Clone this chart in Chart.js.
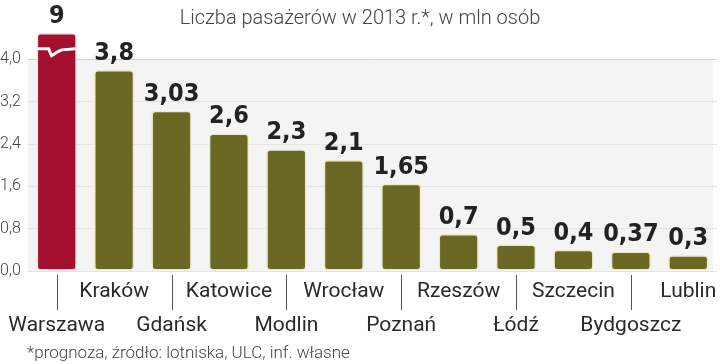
<!DOCTYPE html>
<html>
<head>
<meta charset="utf-8">
<script src="https://cdn.jsdelivr.net/npm/chart.js@4"></script>
<style>
  html, body { margin: 0; padding: 0; background: #fff; }
  #wrap { width: 720px; height: 364px; position: relative; }
</style>
</head>
<body>
<div id="wrap"><canvas id="airChart" width="720" height="364"></canvas></div>
<script>
// ===== dane =====
const airports = ['Warszawa', 'Kraków', 'Gdańsk', 'Katowice', 'Modlin', 'Wrocław', 'Poznań', 'Rzeszów', 'Łódź', 'Szczecin', 'Bydgoszcz', 'Lublin'];
const passengers = [9, 3.8, 3.03, 2.6, 2.3, 2.1, 1.65, 0.7, 0.5, 0.4, 0.37, 0.3];
const yTicks = [0, 0.8, 1.6, 2.4, 3.2, 4.0];
const title = 'Liczba pasażerów w 2013 r.*, w mln osób';
const footnote = '*prognoza, źródło: lotniska, ULC, inf. własne';

const yCap = 4.5; // Warszawa jest ucięta
const fmt = v => String(v).replace('.', ',');

// tło pola wykresu + tytuł + przypis
const backdrop = {
    id: 'backdrop',
    beforeDraw(chart) {
        const { ctx, chartArea, scales: { y } } = chart;
        ctx.save();
        ctx.fillStyle = '#f4f4f4';
        const top = y.getPixelForValue(4.0);
        ctx.fillRect(chartArea.left, top, chartArea.right - chartArea.left - 4, y.getPixelForValue(0) - top + 1);
        ctx.fillStyle = '#444';
        ctx.font = '300 20px Roboto';
        ctx.textAlign = 'center';
        ctx.textBaseline = 'alphabetic';
        ctx.fillText(title, 360, 24);
        ctx.textAlign = 'left';
        ctx.font = '300 17px Roboto';
        ctx.fillText(footnote, 27, 358);
        ctx.restore();
    }
};

// etykiety wartości, kategorie i znak przerwania
const labelsPlugin = {
    id: 'labelsPlugin',
    afterDatasetsDraw(chart) {
        const { ctx, scales: { y } } = chart;
        const bars = chart.getDatasetMeta(0).data;
        ctx.save();
        bars.forEach((bar, i) => {
            ctx.fillStyle = '#222';
            ctx.font = 'bold 25px "DejaVu Sans Condensed", "DejaVu Sans"';
            ctx.textAlign = 'center';
            ctx.textBaseline = 'alphabetic';
            ctx.fillText(fmt(passengers[i]), bar.x, bar.y - 10);

            const lower = i % 2 === 0;
            if (lower) {
                ctx.strokeStyle = '#555';
                ctx.lineWidth = 1;
                ctx.beginPath();
                ctx.moveTo(Math.round(bar.x) + 0.5, 275);
                ctx.lineTo(Math.round(bar.x) + 0.5, 310);
                ctx.stroke();
            }
            ctx.fillStyle = '#2a2a2a';
            ctx.font = '21px Roboto';
            ctx.textBaseline = 'middle';
            ctx.fillText(airports[i], bar.x, lower ? 326 : 292);
        });

        // przerwanie słupka Warszawy
        const b = bars[0];
        const half = b.width / 2;
        const y0 = y.getPixelForValue(4.2);
        ctx.strokeStyle = '#fff';
        ctx.lineWidth = 3;
        ctx.beginPath();
        ctx.moveTo(b.x - half + 1, y0);
        ctx.lineTo(b.x - half + 12, y0);
        ctx.lineTo(b.x - half + 15, y0 + 7);
        ctx.lineTo(b.x - half + 21, y0 + 3);
        ctx.lineTo(b.x - half + 25, y0 + 1);
        ctx.lineTo(b.x + half - 1, y0);
        ctx.stroke();
        ctx.restore();
    }
};

const ctx = document.getElementById('airChart').getContext('2d');
new Chart(ctx, {
    type: 'bar',
    data: {
        labels: airports,
        datasets: [{
            data: passengers.map(v => Math.min(v, yCap)),
            backgroundColor: passengers.map((v, i) => i === 0 ? '#a30f2c' : '#6a6924'),
            borderColor: passengers.map((v, i) => i === 0 ? '#f3dede' : '#efe9c6'),
            borderWidth: 1.5,
            borderRadius: 4,
            borderSkipped: false,
            barPercentage: 0.7,
            categoryPercentage: 1
        }]
    },
    options: {
        responsive: false,
        animation: false,
        layout: { padding: { top: 33, bottom: 93, left: 0, right: 3 } },
        plugins: { legend: { display: false }, tooltip: { enabled: false } },
        scales: {
            x: { display: false },
            y: {
                min: 0,
                max: yCap,
                afterBuildTicks: axis => { axis.ticks = yTicks.map(v => ({ value: v })); },
                afterFit: axis => { axis.width = 28; },
                border: { display: false },
                grid: {
                    color: c => c.tick && c.tick.value === 4 ? '#d4d4d4' : '#e3e3e3',
                    lineWidth: 1,
                    drawTicks: false
                },
                ticks: {
                    crossAlign: 'far',
                    padding: 2,
                    color: '#444',
                    font: { family: 'Roboto', size: 16, weight: '300' },
                    callback: v => v.toFixed(1).replace('.', ',')
                }
            }
        }
    },
    plugins: [backdrop, labelsPlugin]
});
</script>
</body>
</html>
